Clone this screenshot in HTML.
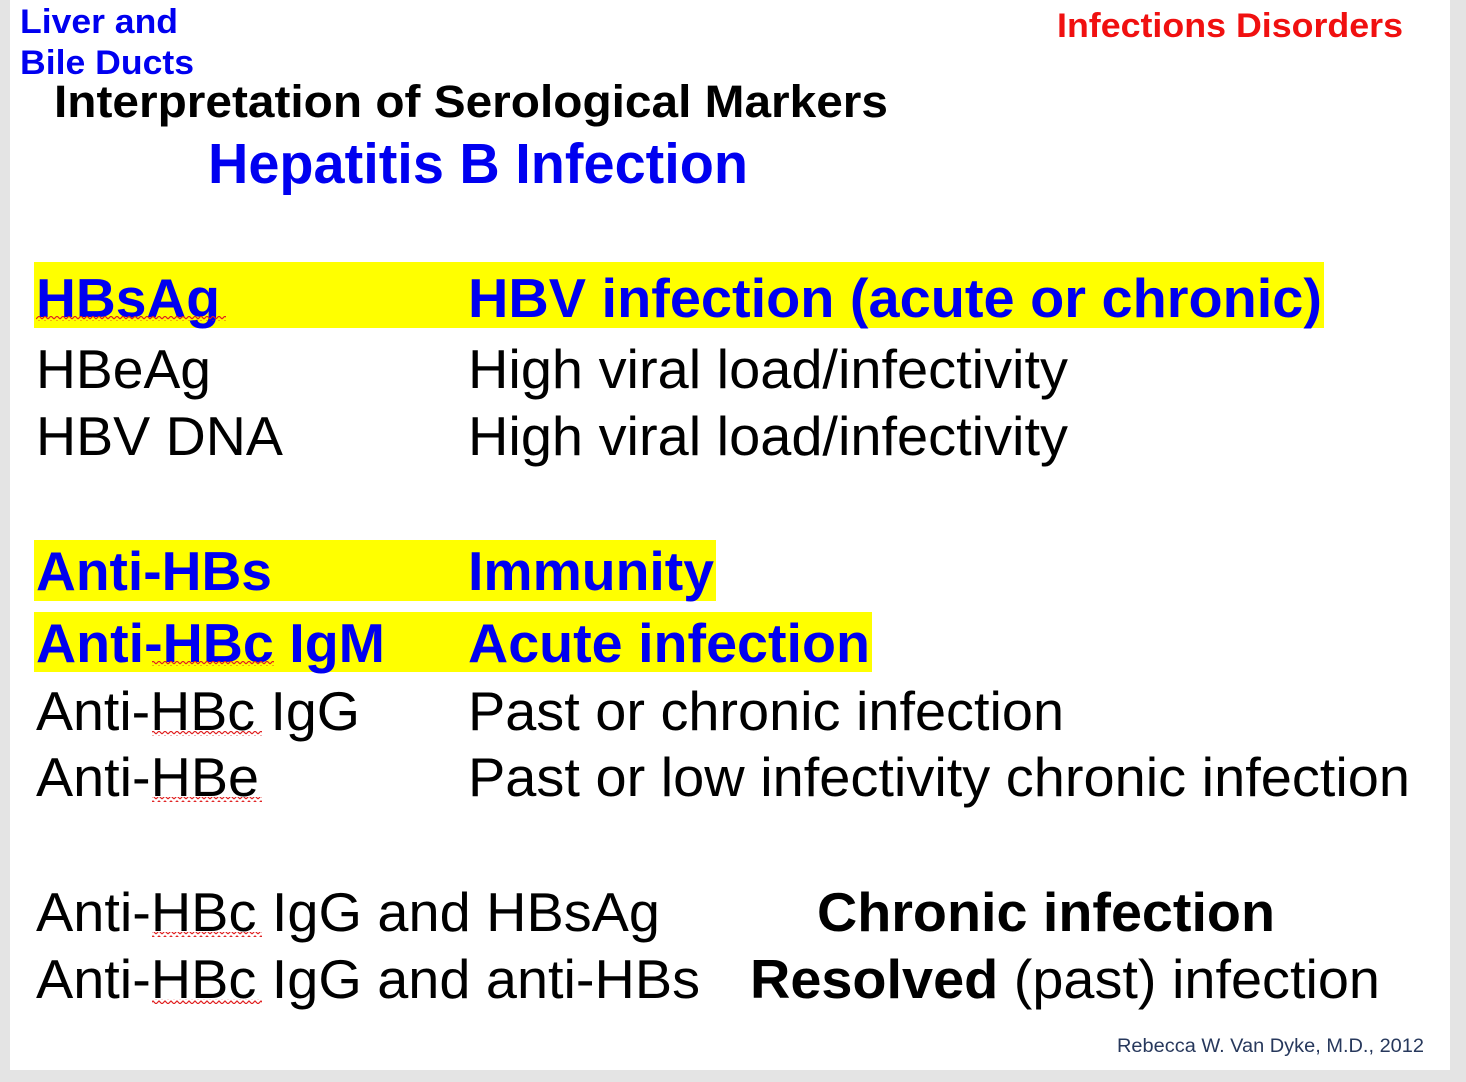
<!DOCTYPE html>
<html><head><meta charset="utf-8"><style>
html,body{margin:0;padding:0;background:#e4e4e4;}
svg{display:block;}
text{font-family:"Liberation Sans",Arial,sans-serif;}
</style></head><body>
<svg width="1466" height="1082" viewBox="0 0 1466 1082">
<defs><pattern id="wv" width="6" height="5" patternUnits="userSpaceOnUse"><path d="M0 4 L3 1 L6 4" fill="none" stroke="#e02020" stroke-width="1.2"/></pattern></defs>
<rect x="10" y="0" width="1440" height="1070" fill="#fff"/>
<text x="20" y="33" font-size="34" font-weight="bold" fill="#0000f0" textLength="158" lengthAdjust="spacingAndGlyphs">Liver and</text>
<text x="20" y="74" font-size="34" font-weight="bold" fill="#0000f0" textLength="174" lengthAdjust="spacingAndGlyphs">Bile Ducts</text>
<text x="1057" y="37" font-size="34" font-weight="bold" fill="#f01010" textLength="346" lengthAdjust="spacingAndGlyphs">Infections Disorders</text>
<text x="54" y="117" font-size="45" font-weight="bold" fill="#000" textLength="834" lengthAdjust="spacingAndGlyphs">Interpretation of Serological Markers</text>
<text x="208" y="183" font-size="57" font-weight="bold" fill="#0000f0" textLength="540" lengthAdjust="spacingAndGlyphs">Hepatitis B Infection</text>

<rect x="34" y="262" width="1290" height="66" fill="#ffff00"/>
<rect x="34" y="540" width="682" height="61" fill="#ffff00"/>
<rect x="34" y="612" width="838" height="60" fill="#ffff00"/>

<g font-size="55" fill="#000">
<text x="36" y="317" font-weight="bold" fill="#0000f0" textLength="184" lengthAdjust="spacingAndGlyphs">HBsAg</text>
<text x="468" y="317" font-weight="bold" fill="#0000f0" textLength="854" lengthAdjust="spacingAndGlyphs">HBV infection (acute or chronic)</text>
<text x="36" y="388" textLength="175" lengthAdjust="spacingAndGlyphs">HBeAg</text>
<text x="468" y="388" textLength="600" lengthAdjust="spacingAndGlyphs">High viral load/infectivity</text>
<text x="36" y="455" textLength="247" lengthAdjust="spacingAndGlyphs">HBV DNA</text>
<text x="468" y="455" textLength="600" lengthAdjust="spacingAndGlyphs">High viral load/infectivity</text>
<text x="36" y="590" font-weight="bold" fill="#0000f0" textLength="236" lengthAdjust="spacingAndGlyphs">Anti-HBs</text>
<text x="468" y="590" font-weight="bold" fill="#0000f0" textLength="246" lengthAdjust="spacingAndGlyphs">Immunity</text>
<text x="36" y="662" font-weight="bold" fill="#0000f0" textLength="349" lengthAdjust="spacingAndGlyphs">Anti-HBc IgM</text>
<text x="468" y="662" font-weight="bold" fill="#0000f0" textLength="402" lengthAdjust="spacingAndGlyphs">Acute infection</text>
<text x="36" y="730" textLength="324" lengthAdjust="spacingAndGlyphs">Anti-HBc IgG</text>
<text x="468" y="730" textLength="596" lengthAdjust="spacingAndGlyphs">Past or chronic infection</text>
<text x="36" y="796" textLength="223" lengthAdjust="spacingAndGlyphs">Anti-HBe</text>
<text x="468" y="796" textLength="942" lengthAdjust="spacingAndGlyphs">Past or low infectivity chronic infection</text>
<text x="36" y="931" textLength="624" lengthAdjust="spacingAndGlyphs">Anti-HBc IgG and HBsAg</text>
<text x="817" y="931" font-weight="bold" textLength="458" lengthAdjust="spacingAndGlyphs">Chronic infection</text>
<text x="36" y="998" textLength="664" lengthAdjust="spacingAndGlyphs">Anti-HBc IgG and anti-HBs</text>
<text x="750" y="998" textLength="630" lengthAdjust="spacingAndGlyphs"><tspan font-weight="bold">Resolved</tspan> (past) infection</text>
</g>

<g>
<rect x="36" y="316" width="190" height="5" fill="url(#wv)"/>
<rect x="152" y="661" width="122" height="5" fill="url(#wv)"/>
<rect x="152" y="731" width="110" height="5" fill="url(#wv)"/>
<rect x="152" y="797" width="110" height="5" fill="url(#wv)"/>
<rect x="152" y="932" width="110" height="5" fill="url(#wv)"/>
<rect x="152" y="999" width="110" height="5" fill="url(#wv)"/>
</g>

<text x="1117" y="1052" font-size="19" fill="#27385c" textLength="307" lengthAdjust="spacingAndGlyphs">Rebecca W. Van Dyke, M.D., 2012</text>
</svg>
</body></html>
